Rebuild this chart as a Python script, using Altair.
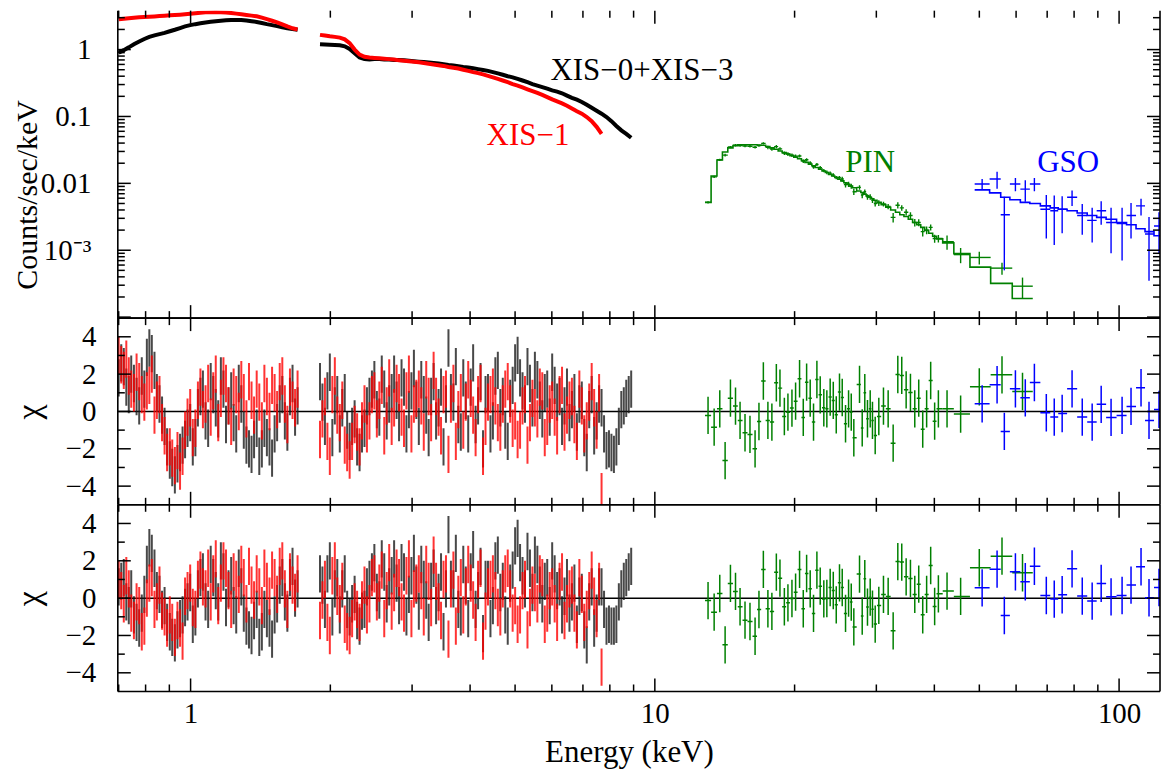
import altair as alt
import numpy as np
import pandas as pd

FONT = "Liberation Serif"
W = 1044
H_TOP = 308
H_CHI = 187

BLACK = "#000000"
RED = "#ff0000"
GREEN = "#008000"
BLUE = "#0000ff"

# ---------------- XIS energies (keV) ----------------
XIS_E = [0.700, 0.718, 0.736, 0.755, 0.775, 0.795, 0.815, 0.836, 0.857, 0.879,
         0.902, 0.925, 0.949, 0.973, 0.998, 1.024, 1.050, 1.077, 1.105, 1.133,
         1.162, 1.192, 1.223, 1.254, 1.286, 1.319, 1.353, 1.388, 1.424, 1.460,
         1.498, 1.536, 1.576, 1.616, 1.658, 1.700,
         1.900, 1.947, 1.995, 2.045, 2.096, 2.148, 2.201, 2.256, 2.312, 2.369,
         2.428, 2.488, 2.550, 2.613, 2.678, 2.744, 2.812, 2.882, 2.953, 3.027,
         3.102, 3.179, 3.257, 3.338, 3.421, 3.506, 3.593, 3.682, 3.773, 3.867,
         3.963, 4.061, 4.162, 4.265, 4.371, 4.479, 4.590, 4.704, 4.821, 4.940,
         5.063, 5.188, 5.317, 5.449, 5.584, 5.722, 5.864, 6.010, 6.159, 6.311,
         6.468, 6.628, 6.793, 6.961, 7.134, 7.311, 7.492, 7.678, 7.868, 8.063,
         8.263, 8.468, 8.678, 8.893]
# interleaved residual bins (keV)
XIS_E2 = [0.709, 0.727, 0.745, 0.765, 0.785, 0.805, 0.825, 0.846, 0.868, 0.890,
          0.913, 0.937, 0.961, 0.985, 1.011, 1.037, 1.063, 1.091, 1.119, 1.147,
          1.177, 1.207, 1.238, 1.270, 1.302, 1.336, 1.370, 1.406, 1.442, 1.479,
          1.517, 1.556, 1.596, 1.637, 1.679,
          1.923, 1.971, 2.020, 2.070, 2.122, 2.174, 2.228, 2.284, 2.340, 2.398,
          2.458, 2.519, 2.581, 2.645, 2.711, 2.778, 2.847, 2.917, 2.990, 3.064,
          3.140, 3.218, 3.297, 3.379, 3.463, 3.549, 3.637, 3.727, 3.820, 3.915,
          4.012, 4.111, 4.213, 4.318, 4.425, 4.534, 4.647, 4.762, 4.880, 5.001,
          5.125, 5.252, 5.383, 5.516, 5.653, 5.793, 5.937, 6.084, 6.235, 6.389,
          6.548, 6.710, 6.877, 7.047, 7.222, 7.401, 7.585, 7.773, 7.965, 8.163,
          8.365, 8.573, 8.785]

# XIS-0+XIS-3 counts/sec/keV
XIS03_SPEC = [0.90, 0.98, 1.08, 1.20, 1.32, 1.44, 1.55, 1.63, 1.70, 1.78,
              1.88, 1.98, 2.10, 2.22, 2.32, 2.40, 2.47, 2.54, 2.60, 2.66,
              2.70, 2.74, 2.77, 2.78, 2.77, 2.72, 2.66, 2.59, 2.50, 2.40,
              2.32, 2.24, 2.16, 2.09, 2.03, 1.98,
              1.20, 1.19, 1.18, 1.17, 1.16, 1.12, 1.02, 0.88, 0.76, 0.72,
              0.71, 0.72, 0.72, 0.71, 0.71, 0.70, 0.70, 0.69, 0.68, 0.67,
              0.66, 0.65, 0.64, 0.63, 0.62, 0.605, 0.59, 0.58, 0.565, 0.55,
              0.54, 0.525, 0.51, 0.495, 0.48, 0.46, 0.44, 0.42, 0.40, 0.385,
              0.365, 0.345, 0.325, 0.305, 0.29, 0.275, 0.26, 0.245, 0.235, 0.222,
              0.205, 0.19, 0.178, 0.165, 0.150, 0.135, 0.122, 0.110, 0.098, 0.085,
              0.072, 0.062, 0.055, 0.048]

# XIS-1 counts/sec/keV (first 94 energies)
XIS1_SPEC = [2.85, 2.90, 2.95, 3.00, 3.04, 3.08, 3.10, 3.13, 3.17, 3.21,
             3.25, 3.29, 3.33, 3.38, 3.44, 3.50, 3.56, 3.60, 3.63, 3.65,
             3.63, 3.58, 3.52, 3.45, 3.38, 3.30, 3.22, 3.15, 3.00, 2.85,
             2.70, 2.55, 2.38, 2.22, 2.08, 2.00,
             1.66, 1.62, 1.58, 1.55, 1.51, 1.42, 1.25, 1.00, 0.84, 0.78,
             0.76, 0.75, 0.74, 0.73, 0.72, 0.71, 0.69, 0.68, 0.67, 0.66,
             0.645, 0.63, 0.615, 0.60, 0.585, 0.57, 0.55, 0.535, 0.52, 0.50,
             0.48, 0.46, 0.445, 0.425, 0.405, 0.385, 0.365, 0.345, 0.325, 0.305,
             0.29, 0.272, 0.255, 0.24, 0.225, 0.21, 0.195, 0.18, 0.168, 0.157,
             0.145, 0.132, 0.12, 0.11, 0.098, 0.085, 0.070, 0.055]

# residuals (chi), model 1 (middle panel) at XIS_E
XIS03_CHI_A = [1.8, 2.4, 0.9, 1.5, 0.3, 1.2, 3.4, 2.2, 0.4, -0.8,
               -2.6, -3.4, -2.2, -1.5, -0.6, -1.4, 0.8, -0.5, 1.6, 0.2,
               1.9, -0.7, 1.1, -1.2, 0.4, -1.8, -2.3, -0.9, -2.0, -1.4,
               -2.5, -0.6, 0.9, -1.1, 1.5, 0.3,
               1.6, -0.8, 2.1, 0.3, -1.2, 1.0, -1.6, -0.4, -2.2, -0.9,
               0.8, 1.7, -0.3, 1.2, 0.4, 2.0, -0.6, 1.3, 0.1, 2.3,
               -0.8, 0.9, -1.4, 1.6, 0.2, -1.9, 3.4, 0.5, -0.7, 1.8,
               -1.2, 2.6, 0.3, -2.0, 1.0, -0.5, 2.2, 0.8, -1.6, 1.4,
               3.0, 1.1, 2.4, 0.2, 1.7, -0.4, 1.2, 2.1, 0.5, -0.8,
               1.3, 0.1, -1.1, 0.6, -2.2, 0.9, -0.5, 0.2, -2.1, -2.2,
               -1.9, 0.1, 0.7, 1.2]
XIS1_CHI_A = [3.0, 2.2, 1.9, 1.0, 1.6, 0.5, 1.4, -0.2, 0.9, -1.3,
              -1.9, -2.9, -3.2, -1.0, 0.2, -0.9, 1.3, 0.4, -0.3, 2.0,
              0.7, 1.5, -0.8, 0.9, 1.7, -0.4, 0.6, 1.2, -0.5, 0.8,
              1.4, 0.1, 1.9, -0.7, 0.6, 1.2,
              -1.5, 0.8, -2.4, 1.9, -0.6, -1.8, -2.6, -0.7, -1.9, 0.4,
              -0.5, 1.1, 0.6, -1.3, 1.8, 0.2, 1.0, -0.9, 2.0, 0.4,
              1.2, -1.1, 0.8, 2.2, -0.3, 0.9, -2.3, 1.5, 0.1, -1.0,
              1.7, -0.2, 0.9, -2.4, 0.5, 1.3, -0.6, 0.4, 1.6, -0.9,
              -1.5, 0.3, -1.8, 0.7, -0.4, 1.1, -0.8, 0.6, -1.3, 1.4,
              -0.2, 0.8, -1.6, 0.3, -0.5, 1.6, -1.0, -4.3]
# residuals (chi), model 1 at XIS_E2
XIS03_CHI_A2 = [2.6, 1.3, 2.0, 0.8, 1.9, 2.9, 3.1, 1.0, -0.2, -1.9,
                -3.0, -2.8, -1.8, -0.9, -1.9, 0.2, 1.2, -0.9, 0.9, -0.4,
                1.2, 0.3, -0.6, 1.5, -1.0, -2.0, -1.5, -2.4, -0.9, -1.9,
                -1.2, 0.4, -0.5, 0.8, -0.3,
                0.5, 1.1, -1.4, 0.9, 0.2, -1.0, -0.8, -1.9, -1.2, 0.3,
                1.2, 0.1, 2.0, -0.5, 1.0, 0.6, 1.8, -1.2, 1.1, 0.6,
                1.7, -0.2, 0.8, -0.5, 1.3, 0.4, 1.0, 2.4, -1.1, 0.6,
                1.3, -0.7, 1.6, 0.9, -1.2, 1.9, 0.2, -1.0, 0.7, 2.6,
                1.8, 0.4, 1.5, 2.2, 0.6, 1.0, -0.3, 1.4, 0.8, 0.3,
                -0.6, 1.0, 0.4, -1.4, 0.1, -1.3, 0.4, -1.2, -2.0, -2.3,
                -0.8, 0.3, 0.9]
XIS1_CHI_A2 = [2.5, 2.8, 1.2, 2.1, 0.9, 1.1, 2.0, 0.6, -0.6, -2.2,
               -2.5, -2.1, -2.4, -0.3, -1.4, 0.6, 0.1, 1.5, 1.1, -0.6,
               1.9, 0.3, 1.3, 0.0, 1.0, 1.6, -0.2, 0.5, 1.5, 0.0,
               1.0, 1.6, 0.4, 1.3, 0.2,
               -0.4, -1.6, 0.9, -0.2, 0.6, -2.2, -1.6, -1.1, -0.5, -1.2,
               0.9, -0.4, 1.4, 0.3, -0.8, 1.5, -0.3, 1.1, -1.2, 0.7,
               0.3, 1.7, -0.6, 0.8, -1.3, 1.2, 0.4, -1.6, 1.0, 0.5,
               0.7, -1.4, 1.5, -0.8, 0.9, 0.3, -1.1, 1.2, 0.4, -0.5,
               -1.0, 0.9, -0.6, 0.2, 1.3, -1.4, 0.4, -0.3, 0.9, -1.1,
               0.6, -0.7, 1.2, -1.2, 0.5, 0.2, 1.0]
# residuals (chi), model 2 (bottom panel) at XIS_E
XIS03_CHI_B = [0.6, 1.1, -0.4, -0.9, -1.6, 0.2, 2.7, 1.6, 0.2, -0.4,
               -1.8, -2.4, -1.1, -0.5, 0.3, -1.0, 1.1, -0.2, 1.8, 0.4,
               2.0, -0.5, 1.2, -0.9, 0.6, -1.5, -2.0, -0.6, -1.8, -1.1,
               -2.2, -0.3, 1.1, -0.8, 1.7, 0.5,
               1.3, -0.6, 2.0, 0.5, -0.9, 1.3, -1.0, 0.2, -1.5, -0.6,
               1.0, 1.9, -0.1, 1.4, 0.6, 2.1, -0.4, 1.4, 0.2, 2.4,
               -0.7, 1.0, -1.3, 1.6, 0.3, -1.8, 3.4, 0.5, -0.6, 1.8,
               -1.1, 2.6, 0.4, -1.9, 1.0, -0.4, 2.3, 0.9, -1.5, 1.5,
               3.2, 1.2, 2.5, 0.3, 1.8, -0.3, 1.1, 2.0, 0.4, -0.9,
               1.1, -0.2, -1.4, 0.3, -2.5, 0.6, -0.8, 0.6, -1.5, -1.5,
               -1.4, 0.5, 1.1, 1.7]
XIS1_CHI_B = [1.0, -0.3, 0.5, -1.2, -0.4, -1.5, 0.8, -0.6, 0.7, -1.0,
              -0.9, -2.1, -1.6, 0.1, 0.8, -0.6, 1.5, 0.5, -0.2, 2.1,
              0.8, 1.6, -0.6, 1.0, 1.8, -0.3, 0.7, 1.3, -0.4, 0.9,
              1.5, 0.2, 2.0, -0.6, 0.7, 1.3,
              -1.2, 1.0, -2.0, 2.0, -0.3, -1.4, -2.0, -0.2, -1.3, 0.7,
              -0.3, 1.3, 0.8, -1.1, 1.9, 0.3, 1.1, -0.8, 2.1, 0.5,
              1.3, -1.0, 0.9, 2.3, -0.2, 1.0, -2.2, 1.5, 0.2, -0.9,
              1.8, -0.1, 1.0, -2.3, 0.6, 1.3, -0.5, 0.5, 1.6, -0.8,
              -1.4, 0.4, -1.7, 0.7, -0.3, 1.1, -0.8, 0.6, -1.3, 1.4,
              -0.3, 0.7, -1.7, 0.2, -0.6, 1.5, -1.1, -3.7]
# residuals (chi), model 2 at XIS_E2
XIS03_CHI_B2 = [0.9, -0.2, 0.5, -1.3, -0.8, 1.8, 2.4, 0.4, -0.6, -1.3,
                -2.1, -1.7, -0.9, -0.2, -1.4, 0.5, 1.4, -0.6, 1.1, -0.2,
                1.4, 0.5, -0.4, 1.6, -0.8, -1.7, -1.2, -2.1, -0.6, -1.6,
                -0.9, 0.7, -0.2, 1.1, 0.0,
                0.7, 1.3, -1.0, 1.1, 0.5, -0.6, -0.3, -1.2, -0.7, 0.6,
                1.4, 0.3, 2.1, -0.3, 1.2, 0.8, 1.9, -1.0, 1.2, 0.7,
                1.8, -0.1, 0.9, -0.4, 1.4, 0.5, 1.0, 2.4, -1.0, 0.7,
                1.4, -0.6, 1.7, 1.0, -1.1, 2.0, 0.3, -0.9, 0.8, 2.8,
                1.9, 0.5, 1.6, 2.3, 0.7, 0.9, -0.4, 1.3, 0.6, 0.1,
                -0.8, 0.8, 0.1, -1.7, -0.2, -1.6, 0.6, -0.6, -1.4, -1.5,
                -0.2, 0.9, 1.4]
XIS1_CHI_B2 = [0.4, 1.2, -0.8, -0.2, -1.8, 0.0, 1.1, -0.2, -0.7, -1.6,
               -1.3, -1.2, -2.3, 0.4, -0.5, 1.0, 0.6, 1.6, 1.3, -0.4,
               2.0, 0.4, 1.4, 0.2, 1.1, 1.7, -0.1, 0.6, 1.6, 0.1,
               1.1, 1.7, 0.5, 1.4, 0.3,
               -0.1, -1.3, 1.2, 0.1, 0.9, -1.8, -1.1, -0.6, -0.1, -0.9,
               1.1, -0.2, 1.5, 0.4, -0.7, 1.6, -0.2, 1.2, -1.1, 0.8,
               0.4, 1.8, -0.5, 0.9, -1.2, 1.3, 0.5, -1.5, 1.1, 0.6,
               0.8, -1.3, 1.6, -0.7, 1.0, 0.4, -1.0, 1.3, 0.5, -0.4,
               -0.9, 1.0, -0.5, 0.3, 1.3, -1.4, 0.4, -0.3, 0.9, -1.2,
               0.5, -0.8, 1.1, -1.3, 0.4, 0.1, 0.9]

# ---------------- HXD-PIN ----------------
PIN_E = [13.02, 13.42, 13.80, 14.17, 14.55, 14.92, 15.26, 15.64, 16.03, 16.44,
         16.76, 17.13, 17.52, 17.87, 18.27, 18.60, 19.01, 19.35, 19.74, 20.10,
         20.50, 20.88, 21.23, 21.61, 21.97, 22.34, 22.71, 23.12, 23.47, 23.86,
         24.23, 24.59, 24.99, 25.33, 25.75, 26.14, 26.49, 26.83, 27.60, 27.97,
         28.33, 28.71, 29.10, 29.43, 29.83, 30.37, 31.08, 31.81, 32.61, 33.37,
         34.03, 34.78, 35.53, 36.30, 37.02, 37.76, 38.50, 39.28, 40.06, 40.81,
         42.60, 45.57, 49.99, 55.95, 61.94]
PIN_DATA = [0.0052, 0.0125, 0.0225, 0.0264, 0.0349, 0.0371, 0.0369, 0.0361, 0.0359, 0.0347,
            0.0367, 0.0396, 0.0345, 0.0327, 0.0354, 0.0328, 0.0283, 0.0274, 0.0263, 0.0255,
            0.0257, 0.0215, 0.0225, 0.0202, 0.0177, 0.0191, 0.0172, 0.0155, 0.0146, 0.0142,
            0.0134, 0.0122, 0.0122, 0.0116, 0.0096, 0.0097, 0.0091, 0.0075, 0.0087, 0.0067,
            0.0075, 0.0063, 0.0063, 0.0056, 0.0050, 0.0051, 0.0049, 0.0045, 0.0031, 0.0047,
            0.0043, 0.0037, 0.0033, 0.0026, 0.0026, 0.0019, 0.0020, 0.0022, 0.0015, 0.0015,
            0.00134, 0.00086, 0.00078, 0.00054, 0.00029]
PIN_ERR = [0.0002, 0.0005, 0.0009, 0.0012, 0.0014, 0.0015, 0.0015, 0.0015, 0.0015, 0.0015,
           0.0015, 0.0015, 0.0021, 0.0020, 0.0019, 0.0018, 0.0017, 0.0017, 0.0016, 0.0015,
           0.0014, 0.0013, 0.0012, 0.0012, 0.0011, 0.0010, 0.0010, 0.0009, 0.0009, 0.0008,
           0.0008, 0.0007, 0.0007, 0.0010, 0.0009, 0.0009, 0.0008, 0.0008, 0.0007, 0.0007,
           0.0006, 0.0006, 0.0006, 0.0005, 0.0005, 0.0005, 0.0004, 0.0004, 0.0005, 0.0005,
           0.0004, 0.0004, 0.0004, 0.00034, 0.00031, 0.00029, 0.00026, 0.00023, 0.00021, 0.00019,
           0.00032, 0.00022, 0.00017, 0.00011, 0.0001]
PIN_MODEL = [0.0052, 0.0129, 0.0224, 0.0295, 0.0339, 0.0367, 0.0376, 0.0378, 0.0378, 0.0377,
             0.0375, 0.0372, 0.0355, 0.0339, 0.0324, 0.0305, 0.0288, 0.0275, 0.0260, 0.0247,
             0.0233, 0.0219, 0.0206, 0.0194, 0.0183, 0.0173, 0.0163, 0.0153, 0.0145, 0.0136,
             0.0129, 0.0123, 0.0115, 0.0109, 0.0102, 0.0096, 0.0091, 0.0086, 0.0077, 0.0073,
             0.0069, 0.0065, 0.0062, 0.0059, 0.0056, 0.0052, 0.0048, 0.0044, 0.0040, 0.0037,
             0.0034, 0.0032, 0.0029, 0.0026, 0.0024, 0.0022, 0.00198, 0.00179, 0.00162, 0.00148,
             0.00129, 0.00089, 0.00056, 0.00032, 0.00019]
PIN_CHI_A = [-0.21, -0.84, 0.14, -2.63, 0.71, 0.29, -0.48, -1.14, -1.23, -2.0,
             -0.54, 1.63, -0.48, -0.57, 1.54, 1.25, -0.27, -0.04, 0.18, 0.55,
             1.75, -0.32, 1.57, 0.71, -0.57, 1.71, 0.89, 0.2, 0.14, 0.77,
             0.59, -0.18, 1.04, 0.75, -0.66, 0.14, -0.04, -1.41, 1.45, -0.88,
             1.0, -0.39, 0.14, -0.48, -1.29, -0.27, 0.29, 0.14, -1.7, 1.98,
             1.93, 1.16, 1.02, 0.14, 0.71, -0.95, 0.14, 1.66, -0.52, 0.14,
             0.14, -0.14, 1.32, 1.96, 1.07]
PIN_CHI_B = [-0.13, -0.75, 0.25, -2.5, 0.79, 0.36, -0.46, -1.18, -1.25, -2.04,
             -0.61, 1.54, -0.57, -0.71, 1.39, 1.07, -0.46, -0.25, -0.02, 0.32,
             1.54, -0.57, 1.32, 0.5, -0.82, 1.5, 0.64, -0.04, -0.02, 0.57,
             0.41, -0.36, 0.82, 0.57, -0.82, 0.0, -0.21, -1.54, 1.29, -0.96,
             1.04, -0.48, 0.05, -0.59, -1.39, -0.39, 0.2, 0.09, -1.75, 1.96,
             1.93, 1.14, 1.05, 0.2, 0.75, -0.89, 0.2, 1.75, -0.45, 0.23,
             0.38, 0.09, 1.63, 2.25, 1.36]

# ---------------- HXD-GSO ----------------
GSO_E = [50.7, 54.6, 56.6, 59.8, 62.8, 65.7, 69.7, 72.5, 75.4, 79.2,
         83.3, 87.5, 91.5, 96.1, 101.5, 106.1, 111.5, 116.0, 121.9]
GSO_DATA = [0.0098, 0.0116, 0.0034, 0.0098, 0.0082, 0.0098, 0.0041, 0.0039, 0.0041, 0.0062,
            0.0033, 0.0028, 0.0039, 0.0026, 0.0025, 0.0033, 0.0046, 0.00175, 0.0023]
GSO_ERR = [0.0018, 0.0033, 0.0029, 0.0022, 0.0029, 0.0022, 0.0026, 0.0027, 0.0023, 0.0016,
           0.0016, 0.0015, 0.0015, 0.0017, 0.0018, 0.0018, 0.0013, 0.0014, 0.0014]
GSO_MODEL = [0.0080, 0.0072, 0.0062, 0.0057, 0.0052, 0.0050, 0.0046, 0.0043, 0.0041, 0.0039,
             0.0036, 0.0033, 0.0031, 0.0029, 0.0026, 0.0024, 0.0021, 0.0019, 0.00165]
GSO_CHI_A = [0.41, 1.43, -1.07, 1.21, 0.73, 1.55, -0.07, -0.3, -0.11, 1.21,
             -0.3, -0.57, 0.38, -0.32, -0.21, 0.27, 1.27, -0.48, 0.11]
GSO_CHI_B = [0.55, 1.55, -0.93, 1.41, 0.88, 1.71, 0.14, -0.05, 0.18, 1.57,
             0.11, -0.16, 0.79, 0.07, 0.14, 0.7, 1.68, 0.02, 0.57]

# ---------------- labels & ticks ----------------
LABELS = ["XIS\u22120+XIS\u22123", "XIS\u22121", "PIN", "GSO"]
LABEL_E = [9.38, 5.33, 29.1, 77.7]
LABEL_V = [0.357, 0.0369, 0.0146, 0.0146]
LABEL_COLORS = [BLACK, RED, GREEN, BLUE]

X_MAJOR = [1, 10, 100]
X_MINOR = [0.7, 0.8, 0.9, 2, 3, 4, 5, 6, 7, 8, 9, 20, 30, 40, 50, 60, 70, 80, 90]
Y_TOP_LABELS = [0.001, 0.01, 0.1, 1]
Y_TOP_MAJOR = [0.0001, 0.001, 0.01, 0.1, 1]
Y_TOP_MINOR = [0.0002, 0.0003, 0.0004, 0.0005, 0.0006, 0.0007, 0.0008, 0.0009,
               0.002, 0.003, 0.004, 0.005, 0.006, 0.007, 0.008, 0.009,
               0.02, 0.03, 0.04, 0.05, 0.06, 0.07, 0.08, 0.09,
               0.2, 0.3, 0.4, 0.5, 0.6, 0.7, 0.8, 0.9, 2, 3]
CHI_MAJOR = [-4, -2, 0, 2, 4]
CHI_MINOR = [-3, -1, 1, 3]

# ---------------- scales ----------------
XS = alt.Scale(type="log", domain=[0.697, 122.5], nice=False)
YS_TOP = alt.Scale(type="log", domain=[9.66e-5, 3.82], nice=False)
YS_CHI = alt.Scale(domain=[-5, 5], nice=False, zero=False)


def bin_edges(E):
    l = np.log10(np.array(E, dtype=float))
    mid = (l[:-1] + l[1:]) / 2
    lo = np.concatenate([[l[0] - (mid[0] - l[0])], mid])
    hi = np.concatenate([mid, [l[-1] + (l[-1] - mid[-1])]])
    return 10 ** lo, 10 ** hi


def tick_layers(yscale, H, ymaj, ymin, xax, yax):
    out = []
    for vals, L in ((X_MAJOR, 13), (X_MINOR, 7)):
        base = alt.Chart(pd.DataFrame({"e": vals})).mark_rule(color=BLACK, strokeWidth=1.5).encode(
            x=alt.X("e:Q", scale=XS, axis=xax))
        out.append(base.encode(y=alt.value(H), y2=alt.value(H - L)))
        out.append(base.encode(y=alt.value(0), y2=alt.value(L)))
    for vals, L in ((ymaj, 13), (ymin, 7)):
        base = alt.Chart(pd.DataFrame({"v": vals})).mark_rule(color=BLACK, strokeWidth=1.5).encode(
            y=alt.Y("v:Q", scale=yscale, axis=yax))
        out.append(base.encode(x=alt.value(0), x2=alt.value(L)))
        out.append(base.encode(x=alt.value(W), x2=alt.value(W - L)))
    return out


def frame_layers(H, top=True):
    d = pd.DataFrame({"k": [0]})
    base = alt.Chart(d).mark_rule(color=BLACK, strokeWidth=1.6)
    out = [base.encode(x=alt.value(0), y=alt.value(0), y2=alt.value(H)),
           base.encode(x=alt.value(W), y=alt.value(0), y2=alt.value(H)),
           base.encode(x=alt.value(0), x2=alt.value(W), y=alt.value(H))]
    if top:
        out.append(base.encode(x=alt.value(0), x2=alt.value(W), y=alt.value(0)))
    return out


# ---------------- top panel ----------------
Y_TOP_AXIS = alt.Axis(values=Y_TOP_LABELS, format="~g",
                      labelExpr="datum.value < 0.005 ? '10\u207b\u00b3' : datum.label",
                      ticks=False, tickSize=0, domain=False, grid=False,
                      labelFontSize=29, labelPadding=27, labelColor=BLACK,
                      title="Counts/sec/keV", titleFontSize=30, titleFontWeight="normal",
                      titleColor=BLACK, titleX=-90, titleY=184, titleBaseline="middle")

xis03 = pd.DataFrame({"e": XIS_E, "v": XIS03_SPEC})
xis03["seg"] = np.where(xis03["e"] < 1.8, "a", "b")
xis1 = pd.DataFrame({"e": XIS_E[:len(XIS1_SPEC)], "v": XIS1_SPEC})
xis1["seg"] = np.where(xis1["e"] < 1.8, "a", "b")


def spec_line(df, color):
    return alt.Chart(df).mark_line(color=color, strokeWidth=4, clip=True).encode(
        x=alt.X("e:Q", scale=XS, axis=None),
        y=alt.Y("v:Q", scale=YS_TOP, axis=Y_TOP_AXIS),
        detail="seg:N")


def hxd_layers(E, D, ERR, M, color):
    lo, hi = bin_edges(E)
    df = pd.DataFrame({"e": E, "d": D, "elo": lo, "ehi": hi})
    df["dlo"] = np.array(D) - np.array(ERR)
    df["dhi"] = np.array(D) + np.array(ERR)
    step = pd.DataFrame({"e": np.ravel(np.column_stack([lo, hi])),
                         "m": np.repeat(M, 2),
                         "o": np.arange(2 * len(M))})
    vert = alt.Chart(df).mark_rule(color=color, strokeWidth=1.4, clip=True).encode(
        x=alt.X("e:Q", scale=XS, axis=None),
        y=alt.Y("dlo:Q", scale=YS_TOP, axis=Y_TOP_AXIS), y2="dhi:Q")
    horiz = alt.Chart(df).mark_rule(color=color, strokeWidth=1.4, clip=True).encode(
        x=alt.X("elo:Q", scale=XS, axis=None), x2="ehi:Q",
        y=alt.Y("d:Q", scale=YS_TOP, axis=Y_TOP_AXIS))
    model = alt.Chart(step).mark_line(color=color, strokeWidth=1.6, clip=True).encode(
        x=alt.X("e:Q", scale=XS, axis=None),
        y=alt.Y("m:Q", scale=YS_TOP, axis=Y_TOP_AXIS),
        order="o:Q")
    return [model, vert, horiz]


labels_df = pd.DataFrame({"t": LABELS, "e": LABEL_E, "v": LABEL_V, "c": LABEL_COLORS})
texts = alt.Chart(labels_df).mark_text(font=FONT, fontSize=31, align="center",
                                       baseline="alphabetic").encode(
    x=alt.X("e:Q", scale=XS, axis=None),
    y=alt.Y("v:Q", scale=YS_TOP, axis=Y_TOP_AXIS),
    text="t:N",
    color=alt.Color("c:N", scale=None))

top_layers = [spec_line(xis03, BLACK), spec_line(xis1, RED)]
top_layers += hxd_layers(PIN_E, PIN_DATA, PIN_ERR, PIN_MODEL, GREEN)
top_layers += hxd_layers(GSO_E, GSO_DATA, GSO_ERR, GSO_MODEL, BLUE)
top_layers += [texts]
top_layers += tick_layers(YS_TOP, H_TOP, Y_TOP_MAJOR, Y_TOP_MINOR, None, Y_TOP_AXIS)
top_layers += frame_layers(H_TOP, top=False)
top = alt.layer(*top_layers).properties(width=W, height=H_TOP)

# ---------------- residual panels ----------------
X_AXIS = alt.Axis(values=X_MAJOR, format="d", ticks=False, tickSize=0, domain=False,
                  grid=False, labelFontSize=29, labelPadding=8, labelColor=BLACK,
                  labelFlush=False, title="Energy (keV)", titleFontSize=31,
                  titleFontWeight="normal", titleColor=BLACK, titleX=512, titleY=70,
                  titleBaseline="alphabetic")

CHI_AXIS = alt.Axis(values=CHI_MAJOR, format="d", ticks=False, tickSize=0, domain=False,
                    grid=False, labelFontSize=29, labelPadding=22, labelColor=BLACK,
                    title="\u03c7", titleFontSize=34, titleFontWeight="normal",
                    titleColor=BLACK, titleX=-88, titleY=H_CHI / 2, titleBaseline="middle")


def chi_panel(c03, c03b, c1, c1b, cpin, cgso, xaxis):
    yax = CHI_AXIS
    layers = []
    zero = alt.Chart(pd.DataFrame({"z": [0]})).mark_rule(color=BLACK, strokeWidth=1.5).encode(
        y=alt.Y("z:Q", scale=YS_CHI, axis=yax))
    layers.append(zero)
    xis_sets = (
        (XIS_E + XIS_E2, c03 + c03b, "#1a1a1a"),
        (XIS_E[:len(c1)] + XIS_E2[:len(c1b)], c1 + c1b, RED),
    )
    for E, C, color in xis_sets:
        df = pd.DataFrame({"e": E, "r": C})
        layers.append(alt.Chart(df).mark_rule(color=color, strokeWidth=2.0, opacity=0.8,
                                              clip=True).transform_calculate(
            lo="datum.r - 1", hi="datum.r + 1").encode(
            x=alt.X("e:Q", scale=XS, axis=xaxis),
            y=alt.Y("lo:Q", scale=YS_CHI, axis=yax), y2="hi:Q"))
    for E, C, color in ((PIN_E, cpin, GREEN), (GSO_E, cgso, BLUE)):
        lo, hi = bin_edges(E)
        df = pd.DataFrame({"e": E, "r": C, "elo": lo, "ehi": hi})
        layers.append(alt.Chart(df).mark_rule(color=color, strokeWidth=1.5, clip=True)
                      .transform_calculate(lo="datum.r - 1", hi="datum.r + 1").encode(
            x=alt.X("e:Q", scale=XS, axis=xaxis),
            y=alt.Y("lo:Q", scale=YS_CHI, axis=yax), y2="hi:Q"))
        layers.append(alt.Chart(df).mark_rule(color=color, strokeWidth=1.5, clip=True).encode(
            x=alt.X("elo:Q", scale=XS, axis=xaxis), x2="ehi:Q",
            y=alt.Y("r:Q", scale=YS_CHI, axis=yax)))
    layers += tick_layers(YS_CHI, H_CHI, CHI_MAJOR, CHI_MINOR, xaxis, yax)
    layers += frame_layers(H_CHI, top=True)
    return alt.layer(*layers).properties(width=W, height=H_CHI)


mid = chi_panel(XIS03_CHI_A, XIS03_CHI_A2, XIS1_CHI_A, XIS1_CHI_A2, PIN_CHI_A, GSO_CHI_A, None)
bot = chi_panel(XIS03_CHI_B, XIS03_CHI_B2, XIS1_CHI_B, XIS1_CHI_B2, PIN_CHI_B, GSO_CHI_B, X_AXIS)

chart = alt.vconcat(top, mid, bot, spacing=0, bounds="flush").properties(
    padding={"left": 4, "top": 0, "right": 0, "bottom": 0}
).configure(font=FONT).configure_view(stroke="transparent").configure_axis(
    labelFont=FONT, titleFont=FONT, grid=False)

chart.save("out.html", embed_options={"renderer": "svg", "actions": False})
